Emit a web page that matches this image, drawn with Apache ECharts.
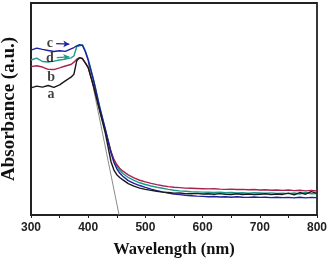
<!DOCTYPE html>
<html><head><meta charset="utf-8">
<script src="https://cdn.jsdelivr.net/npm/echarts@6/dist/echarts.min.js"></script>
<style>html,body{margin:0;padding:0;background:#fff}#c{width:328px;height:261px}</style>
</head><body><div id="c"></div>
<script>
var wavelengths = [300,310,320,330,340,350,360,370,375,380,385,390,395,400,410,420,430,440,445,450,455,460,470,480,490,500,
510,520,530,540,550,560,570,580,590,600,610,620,630,640,650,660,670,680,690,700,710,720,730,740,750,760,770,780,790,800];
var seriesA = [0.600,0.608,0.603,0.611,0.602,0.614,0.633,0.650,0.664,0.728,0.742,0.738,0.718,0.695,0.600,0.492,0.385,0.250,0.212,0.190,0.177,0.167,0.148,0.136,0.127,0.121,
0.116,0.112,0.108,0.106,0.103,0.104,0.101,0.100,0.102,0.099,0.100,0.098,0.101,0.098,0.097,0.100,0.097,0.099,0.096,0.098,0.100,0.096,0.099,0.097,0.103,0.095,0.106,0.098,0.110,0.102];
var seriesB = [0.700,0.704,0.698,0.687,0.686,0.694,0.703,0.710,0.721,0.735,0.742,0.736,0.716,0.695,0.603,0.497,0.395,0.298,0.262,0.238,0.221,0.208,0.189,0.175,0.164,0.156,
0.149,0.143,0.138,0.134,0.131,0.129,0.127,0.126,0.125,0.124,0.123,0.124,0.122,0.121,0.122,0.120,0.121,0.119,0.120,0.118,0.119,0.117,0.118,0.116,0.118,0.115,0.117,0.114,0.116,0.113];
var seriesC = [0.778,0.787,0.781,0.776,0.771,0.775,0.772,0.784,0.790,0.798,0.803,0.800,0.770,0.730,0.628,0.508,0.402,0.292,0.248,0.218,0.198,0.184,0.162,0.149,0.139,0.130,
0.122,0.115,0.109,0.104,0.099,0.096,0.093,0.091,0.089,0.088,0.086,0.087,0.085,0.086,0.084,0.086,0.084,0.083,0.085,0.083,0.084,0.082,0.084,0.082,0.083,0.081,0.084,0.081,0.083,0.082];
var seriesD = [0.731,0.740,0.724,0.722,0.726,0.731,0.735,0.741,0.750,0.795,0.798,0.803,0.775,0.735,0.632,0.512,0.405,0.296,0.257,0.230,0.211,0.197,0.177,0.163,0.152,0.144,
0.137,0.131,0.126,0.121,0.117,0.114,0.112,0.110,0.109,0.108,0.107,0.106,0.107,0.105,0.106,0.104,0.105,0.103,0.105,0.104,0.103,0.104,0.102,0.103,0.101,0.104,0.099,0.106,0.100,0.101];
var tangentX = [400, 454];
var tangentY = [0.72, 0];
var xTicks = [300, 400, 500, 600, 700, 800];
var labelNames = ['a','b','c','d'];
var labelX = [335, 335, 333, 333];
var labelY = [0.571, 0.651, 0.811, 0.741];
var arrowC = [[344, 0.808], [367, 0.806]];
var arrowD = [[345, 0.742], [367, 0.746]];

function pairs(xs, ys){ return xs.map(function(x,i){ return [x, ys[i]]; }); }

var chart = echarts.init(document.getElementById('c'), null, {renderer:'canvas'});
var lineBase = {type:'line', showSymbol:false, symbol:'none', animation:false, z:3};
chart.setOption({
  animation:false,
  grid:{left:31, right:11, top:3, bottom:46, containLabel:false, outerBoundsMode:'none',
    show:true, borderColor:'#222', borderWidth:1.8},
  xAxis:{type:'value', min:300, max:800, interval:100,
    name:'Wavelength (nm)', nameLocation:'middle', nameGap:26,
    nameTextStyle:{fontFamily:'Liberation Serif', fontWeight:'bold', fontSize:16.5, color:'#111'},
    axisLine:{lineStyle:{color:'#222', width:1.8}},
    axisTick:{show:true, length:3, lineStyle:{color:'#222', width:1}},
    minorTick:{show:true, splitNumber:2, length:3, lineStyle:{color:'#222', width:1}},
    splitLine:{show:false},
    axisLabel:{fontFamily:'Liberation Sans', fontWeight:'bold', fontSize:12, color:'#222', margin:7,
      formatter:function(v){ return xTicks.indexOf(v)>=0 ? String(v) : ''; }}},
  yAxis:{type:'value', min:0, max:1,
    name:'Absorbance (a.u.)', nameLocation:'middle', nameGap:12, nameRotate:90,
    nameTextStyle:{fontFamily:'Liberation Serif', fontWeight:'bold', fontSize:19, color:'#111'},
    axisLine:{show:true, lineStyle:{color:'#222', width:1.8}},
    axisTick:{show:false}, axisLabel:{show:false}, splitLine:{show:false}},
  series:[
    Object.assign({}, lineBase, {name:'tangent', data:pairs(tangentX, tangentY), lineStyle:{color:'#8a8a8a', width:1}, z:2}),
    Object.assign({}, lineBase, {name:'d', data:pairs(wavelengths, seriesD), lineStyle:{color:'#1f9a8c', width:1.4},
      markLine:{silent:true, symbol:['none','arrow'], symbolSize:[5,6], label:{show:false}, lineStyle:{color:'#1f9a8c', width:1.2, type:'solid'},
        data:[[{coord:arrowD[0]},{coord:arrowD[1]}]]}}),
    Object.assign({}, lineBase, {name:'b', data:pairs(wavelengths, seriesB), lineStyle:{color:'#a8234f', width:1.4}}),
    Object.assign({}, lineBase, {name:'c', data:pairs(wavelengths, seriesC), lineStyle:{color:'#1f1fa0', width:1.4},
      markLine:{silent:true, symbol:['none','arrow'], symbolSize:[5,6], label:{show:false}, lineStyle:{color:'#1f1fa0', width:1.2, type:'solid'},
        data:[[{coord:arrowC[0]},{coord:arrowC[1]}]]}}),
    Object.assign({}, lineBase, {name:'a', data:pairs(wavelengths, seriesA), lineStyle:{color:'#1a1a1a', width:1.4}}),
    {type:'scatter', symbolSize:0, animation:false, z:5,
      data:labelNames.map(function(n,i){ return {value:[labelX[i], labelY[i]], name:n}; }),
      label:{show:true, position:'inside', formatter:'{b}', fontFamily:'Liberation Serif', fontWeight:'bold', fontSize:14, color:'#111'}}
  ]
});
</script></body></html>
